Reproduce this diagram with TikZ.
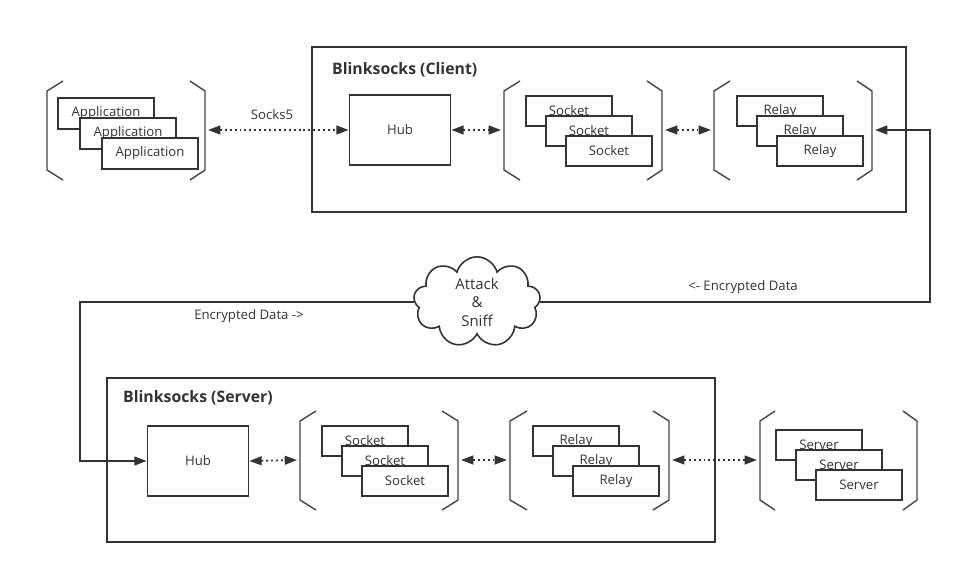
\documentclass[tikz,border=0pt]{standalone}
\usepackage{fontspec}
\setmainfont{Open Sans}
\usetikzlibrary{arrows.meta}
\usetikzlibrary{shapes.symbols}
\definecolor{ink}{HTML}{333333}
\definecolor{brk}{HTML}{444444}
\newcommand*{\titlefont}{\fontsize{9}{10}\bfseries}
\tikzstyle{base}=[x=0.02cm, y=-0.02cm, ink, font=\fontsize{7.5}{10}\selectfont]
\tikzstyle{frame}=[draw=ink, line width=0.8pt, inner sep=0pt]
\tikzstyle{hubbox}=[draw=ink, line width=1pt, fill=white, minimum width=2.02cm, minimum height=1.4cm]
\tikzstyle{item}=[draw=ink, line width=1.1pt, fill=white, inner sep=0pt, minimum width=1.72cm, minimum height=0.6cm]
\tikzstyle{appitem}=[item, minimum width=1.92cm, minimum height=0.62cm]
\tikzstyle{bracket}=[draw=brk, line width=0.8pt]
\tikzstyle{dotlink}=[ink, line width=1pt, dash pattern=on 1.1pt off 1.7pt, {Triangle[length=7pt,width=5pt]}-{Triangle[length=7pt,width=5pt]}]
\tikzstyle{link}=[ink, line width=1pt, -{Triangle[length=7pt,width=5pt]}]

\begin{document}
\begin{tikzpicture}[base]
    \useasboundingbox (0,0) rectangle (962,575);
    % frames
    \node [frame, minimum width=11.88cm, minimum height=3.3cm] (client) at (609,129.5) {};
    \node [frame, minimum width=12.16cm, minimum height=3.28cm] (server) at (411,460) {};
    \node [anchor=west, font=\titlefont] (clienttitle) at (326,70) {Blinksocks (Client)};
    \node [anchor=west, font=\titlefont] (servertitle) at (117,398) {Blinksocks (Server)};
    % brackets
    \draw [bracket] (63,81) -- (47,91) -- (47,170) -- (63,180);
    \draw [bracket] (190,81) -- (205,91) -- (205,170) -- (190,180);
    \draw [bracket] (520,81) -- (504,91) -- (504,170) -- (520,180);
    \draw [bracket] (647,81) -- (662,91) -- (662,170) -- (647,180);
    \draw [bracket] (730,81) -- (714,91) -- (714,170) -- (730,180);
    \draw [bracket] (857,81) -- (872,91) -- (872,170) -- (857,180);
    \draw [bracket] (316,411) -- (300,421) -- (300,500) -- (316,510);
    \draw [bracket] (442,411) -- (458,421) -- (458,500) -- (442,510);
    \draw [bracket] (527,411) -- (510,421) -- (510,500) -- (527,510);
    \draw [bracket] (653,411) -- (669,421) -- (669,500) -- (653,510);
    \draw [bracket] (775,411) -- (760,421) -- (760,500) -- (775,510);
    \draw [bracket] (903,411) -- (917,421) -- (917,500) -- (903,510);
    \coordinate (appR) at (208,130);
    \coordinate (csockL) at (501,130);
    \coordinate (csockR) at (665,130);
    \coordinate (crelayL) at (711,130);
    \coordinate (crelayR) at (875,130);
    \coordinate (ssockL) at (297,460);
    \coordinate (ssockR) at (461,460);
    \coordinate (srelayL) at (507,460);
    \coordinate (srelayR) at (672,460);
    \coordinate (serversL) at (757,460);
    % stacked items
    \node [appitem] (app1) at (106,113.5) {Application};
    \node [appitem] (app2) at (128,133.5) {Application};
    \node [appitem] (app3) at (150,153.5) {Application};
    \node [item] (csock1) at (569,111) {Socket};
    \node [item] (csock2) at (589,131) {Socket};
    \node [item] (csock3) at (609,151) {Socket};
    \node [item] (crelay1) at (780,111) {Relay};
    \node [item] (crelay2) at (800,131) {Relay};
    \node [item] (crelay3) at (820,151) {Relay};
    \node [item] (ssock1) at (365,441) {Socket};
    \node [item] (ssock2) at (385,461) {Socket};
    \node [item] (ssock3) at (405,481) {Socket};
    \node [item] (srelay1) at (576,441) {Relay};
    \node [item] (srelay2) at (596,461) {Relay};
    \node [item] (srelay3) at (616,481) {Relay};
    \node [item] (servers1) at (819,445) {Server};
    \node [item] (servers2) at (839,465) {Server};
    \node [item] (servers3) at (859,485) {Server};
    % hubs
    \node [hubbox] (chub) at (400,130) {Hub};
    \node [hubbox] (shub) at (198,461) {Hub};
    % cloud
    \node [cloud, draw=ink, line width=0.9pt, fill=white, cloud puffs=9, aspect=1.45,
           minimum width=2.54cm, minimum height=1.78cm, inner sep=0pt, align=center,
           font=\fontsize{8.5}{10.5}\selectfont] (sniff) at (477,302) {Attack\\\&\\Sniff};
    \coordinate (turnR) at (930,302);
    \coordinate (turnL) at (80,302);
    % links
    \draw [dotlink] (appR) -- (chub.west);
    \draw [dotlink] (chub.east) -- (csockL);
    \draw [dotlink] (csockR) -- (crelayL);
    \draw [dotlink] (shub.east) -- (ssockL);
    \draw [dotlink] (ssockR) -- (srelayL);
    \draw [dotlink] (srelayR) -- (serversL);
    \draw [link] (sniff.east) -- (turnR) |- (crelayR);
    \draw [link] (sniff.west) -- (turnL) |- (shub.west);
    % labels
    \node (socks) at (272,115) {Socks5};
    \node (encup) at (743,287) {<- Encrypted Data};
    \node (encdown) at (249,316) {Encrypted Data ->};
\end{tikzpicture}
\end{document}
